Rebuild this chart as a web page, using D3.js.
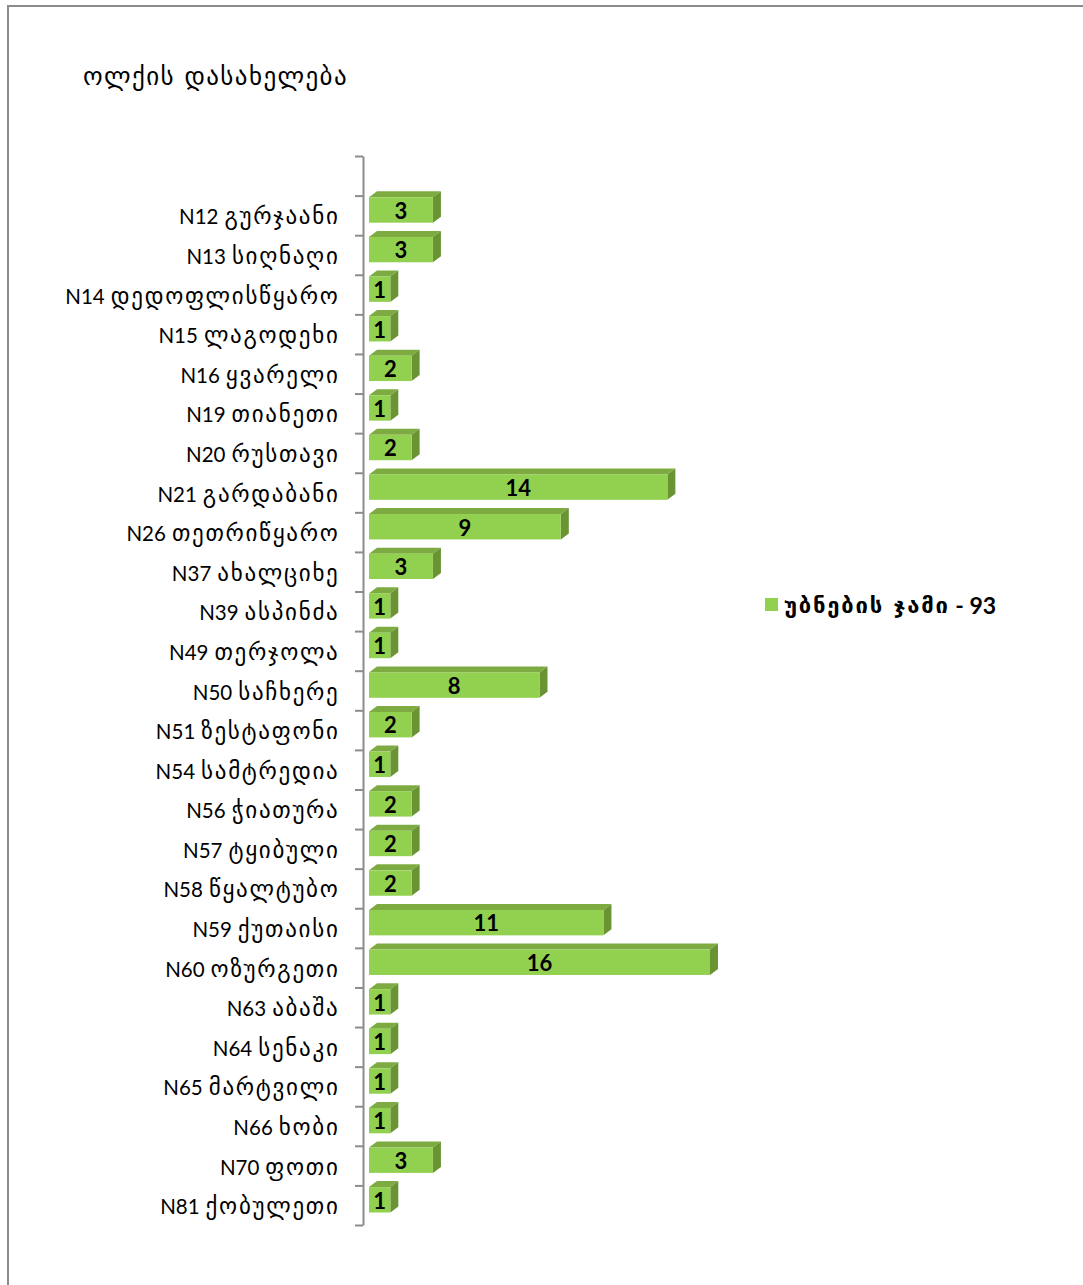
<!DOCTYPE html>
<html>
<head>
<meta charset="utf-8">
<script src="https://cdn.jsdelivr.net/npm/d3@7"></script>
<style>
  body { margin: 0; background: #fff; }
  text { font-family: Lato, "DejaVu Sans", sans-serif; }
  .geo { font-family: "DejaVu Sans", sans-serif; }
</style>
</head>
<body>
<div id="chart"></div>
<script>
// data
var districts = ["N12 გურჯაანი", "N13 სიღნაღი", "N14 დედოფლისწყარო", "N15 ლაგოდეხი",
  "N16 ყვარელი", "N19 თიანეთი", "N20 რუსთავი", "N21 გარდაბანი", "N26 თეთრიწყარო",
  "N37 ახალციხე", "N39 ასპინძა", "N49 თერჯოლა", "N50 საჩხერე", "N51 ზესტაფონი",
  "N54 სამტრედია", "N56 ჭიათურა", "N57 ტყიბული", "N58 წყალტუბო", "N59 ქუთაისი",
  "N60 ოზურგეთი", "N63 აბაშა", "N64 სენაკი", "N65 მარტვილი", "N66 ხობი",
  "N70 ფოთი", "N81 ქობულეთი"];
var precincts = [3, 3, 1, 1, 2, 1, 2, 14, 9, 3, 1, 1, 8, 2, 1, 2, 2, 2, 11, 16, 1, 1, 1, 1, 3, 1];
var chartTitle = "ოლქის დასახელება";
var seriesName = "უბნების ჯამი";
var seriesTotal = " - 93";

var W = 1083, H = 1285;
var svg = d3.select("#chart").append("svg")
    .attr("width", W)
    .attr("height", H);

// outer frame
svg.append("rect")
    .attr("x", 8).attr("y", 6)
    .attr("width", W + 20).attr("height", H + 20)
    .attr("fill", "none")
    .attr("stroke", "#8c8c8c")
    .attr("stroke-width", 2);

svg.append("text")
    .attr("class", "geo")
    .attr("x", 83).attr("y", 85)
    .style("font-size", "25px")
    .style("letter-spacing", "1.4px")
    .text(chartTitle);

// one empty slot at the top like the original
var cats = [""].concat(districts);
var y = d3.scaleBand().domain(cats).range([156, 1225]);
var x = d3.scaleLinear().domain([0, 16]).range([369, 710]);
var slots = d3.scaleLinear().domain([0, cats.length]).range([156, 1225]);

// axis with ticks between categories
svg.append("g")
    .attr("transform", "translate(363,0)")
    .call(d3.axisLeft(slots).tickValues(d3.range(cats.length + 1)).tickFormat("").tickSize(8).tickSizeOuter(0))
    .call(function (g) {
      g.selectAll("line, path").attr("stroke", "#8c8c8c").attr("stroke-width", 2);
    });

// category labels: number part + georgian name
var lbl = svg.append("g")
  .selectAll("text")
  .data(districts)
  .enter()
  .append("text")
    .attr("x", 339.5)
    .attr("y", function (d) { return y(d) + y.bandwidth() / 2 + 1; })
    .attr("text-anchor", "end")
    .attr("dominant-baseline", "central");
lbl.append("tspan")
    .style("font-size", "20.5px")
    .text(function (d) { return d.split(" ")[0]; });
lbl.append("tspan")
    .attr("class", "geo")
    .attr("dx", 6)
    .style("font-size", "23px")
    .style("letter-spacing", "1.7px")
    .text(function (d) { return d.split(" ")[1]; });

var dx = 8, dy = -6;
var bars = svg.append("g")
  .selectAll("g")
  .data(districts)
  .enter()
  .append("g");

function front(d, i) {
  return { x0: x(0), x1: x(precincts[i]), y0: y(d) + 1.7, y1: y(d) + 27.1 };
}

// top face
bars.append("path")
    .attr("d", function (d, i) {
      var f = front(d, i);
      return "M" + f.x0 + "," + f.y0 + "L" + (f.x0 + dx) + "," + (f.y0 + dy) +
        "L" + (f.x1 + dx) + "," + (f.y0 + dy) + "L" + f.x1 + "," + f.y0 + "Z";
    })
    .attr("fill", "#7dab42");

// side face
bars.append("path")
    .attr("d", function (d, i) {
      var f = front(d, i);
      return "M" + f.x1 + "," + f.y0 + "L" + (f.x1 + dx) + "," + (f.y0 + dy) +
        "L" + (f.x1 + dx) + "," + (f.y1 + dy) + "L" + f.x1 + "," + f.y1 + "Z";
    })
    .attr("fill", "#6a9434");

// front face
bars.append("rect")
    .attr("x", function (d, i) { return front(d, i).x0; })
    .attr("y", function (d, i) { return front(d, i).y0; })
    .attr("width", function (d, i) { return x(precincts[i]) - x(0); })
    .attr("height", 25.4)
    .attr("fill", "#92d050");

bars.append("text")
    .attr("x", function (d, i) { return (x(0) + x(precincts[i])) / 2; })
    .attr("y", function (d, i) { return front(d, i).y0 + 13; })
    .attr("text-anchor", "middle")
    .attr("dominant-baseline", "central")
    .style("font-size", "22px")
    .style("font-weight", "bold")
    .text(function (d, i) { return precincts[i]; });

// legend
svg.append("rect")
    .attr("x", 765).attr("y", 598)
    .attr("width", 13).attr("height", 13)
    .attr("fill", "#92d050");
var leg = svg.append("text")
    .attr("x", 784).attr("y", 605)
    .attr("dominant-baseline", "central")
    .style("font-weight", "bold");
leg.append("tspan").attr("class", "geo").style("font-size", "22px").style("letter-spacing", "1.8px").text(seriesName);
leg.append("tspan").style("font-size", "23px").text(seriesTotal);
</script>
</body>
</html>
